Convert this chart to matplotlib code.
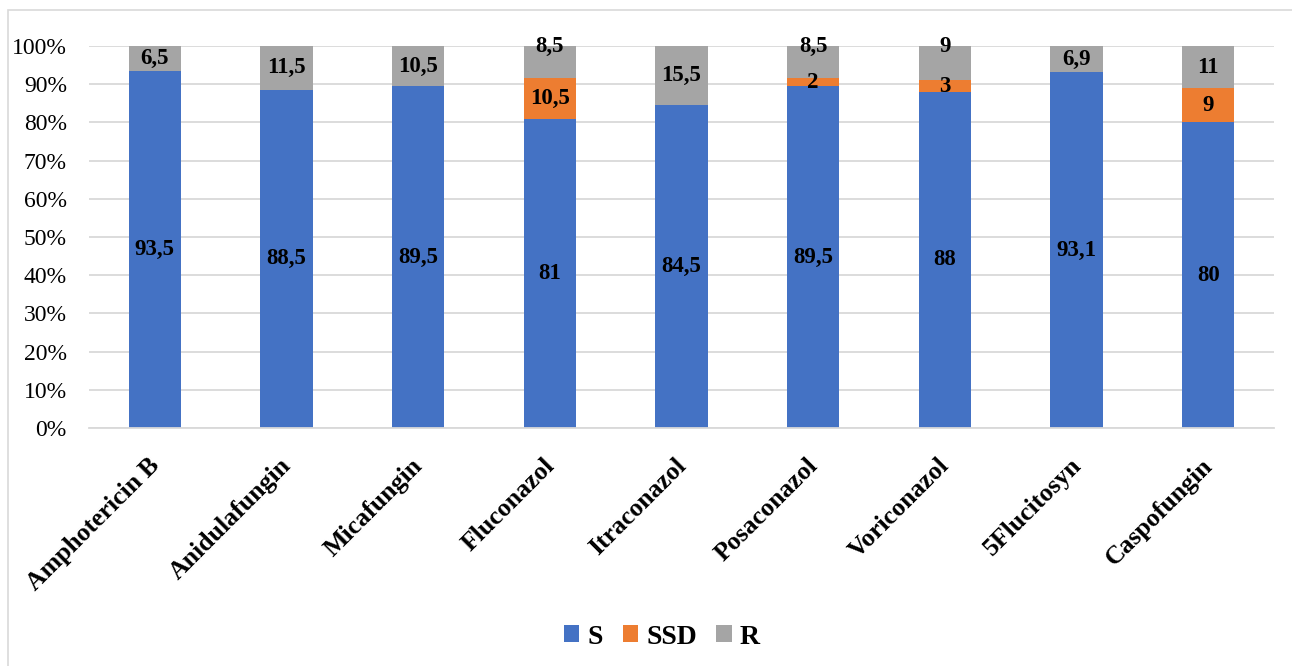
import matplotlib.pyplot as plt
from matplotlib.patches import Rectangle
from matplotlib.transforms import ScaledTranslation
import numpy as np

drugs = ["Amphotericin B", "Anidulafungin", "Micafungin", "Fluconazol", "Itraconazol",
         "Posaconazol", "Voriconazol", "5Flucitosyn", "Caspofungin"]
s_vals = [93.5, 88.5, 89.5, 81, 84.5, 89.5, 88, 93.1, 80]
ssd_vals = [0, 0, 0, 10.5, 0, 2, 3, 0, 9]
r_vals = [6.5, 11.5, 10.5, 8.5, 15.5, 8.5, 9, 6.9, 11]
series_names = ["S", "SSD", "R"]
colors = ["#4472C4", "#ED7D31", "#A5A5A5"]

# labels of the R segment that sit at the top edge of the bar
top_labelled = {"Fluconazol", "Posaconazol", "Voriconazol"}

plt.rcParams['font.family'] = ['Liberation Serif', 'DejaVu Serif']

fig = plt.figure(figsize=(12.92, 6.66), dpi=100)
fig.patches.append(Rectangle((8 / 1292, -0.1), 1.2, 1 - 10 / 666 + 0.1,
                             transform=fig.transFigure, fill=False,
                             edgecolor="#D9D9D9", linewidth=1.2))
ax = fig.add_axes([89 / 1292, 1 - 428 / 666, (1274 - 89) / 1292, (428 - 46) / 666])

data = np.array([s_vals, ssd_vals, r_vals], dtype=float)
totals = data.sum(axis=0)
pct = data / totals * 100
x = np.arange(len(drugs))
width = 0.395
bottom = np.zeros(len(drugs))
for i, name in enumerate(series_names):
    ax.bar(x, pct[i], width, bottom=bottom, color=colors[i], label=name, zorder=3)
    for j in range(len(drugs)):
        v = data[i, j]
        if v <= 0:
            continue
        yc = bottom[j] + pct[i, j] / 2
        if name == "R" and drugs[j] in top_labelled:
            yc = 100
        txt = f"{v:g}".replace(".", ",")
        ax.text(x[j], yc, txt, ha="center", va="center", fontsize=16.5,
                fontweight="bold", color="black", zorder=4)
    bottom += pct[i]

ax.set_xlim(-0.5, len(drugs) - 0.5)
ax.set_ylim(0, 100)
ax.set_yticks(np.arange(0, 101, 10))
ax.set_yticklabels([f"{t}%" for t in range(0, 101, 10)], fontsize=17)
ax.yaxis.grid(True, color="#D9D9D9", linewidth=1.3, zorder=0)
ax.set_xticks(x)
ax.set_xticklabels([])

# rotated category names, anchored just below the axis line
label_tf = ax.get_xaxis_transform() + ScaledTranslation(-7 / 100, -26 / 100,
                                                        fig.dpi_scale_trans)
for xi, name in zip(x, drugs):
    ax.text(xi, 0, name, transform=label_tf, rotation=45, ha="right", va="top",
            rotation_mode="anchor", fontsize=18.5, fontweight="bold")

ax.tick_params(axis="both", length=0)
ax.tick_params(axis="y", pad=16)
for sp in ["top", "right", "left"]:
    ax.spines[sp].set_visible(False)
ax.spines["bottom"].set_color("#D9D9D9")
ax.spines["bottom"].set_linewidth(1.3)
ax.spines["bottom"].set_zorder(5)

leg = fig.legend(loc="center", bbox_to_anchor=(662 / 1292, 1 - 637 / 666), ncol=3,
                 frameon=False, prop={"size": 20, "weight": "bold"},
                 handlelength=0.55, handleheight=0.55, handletextpad=0.3,
                 columnspacing=0.7)

fig.savefig("out.png", dpi=100)
